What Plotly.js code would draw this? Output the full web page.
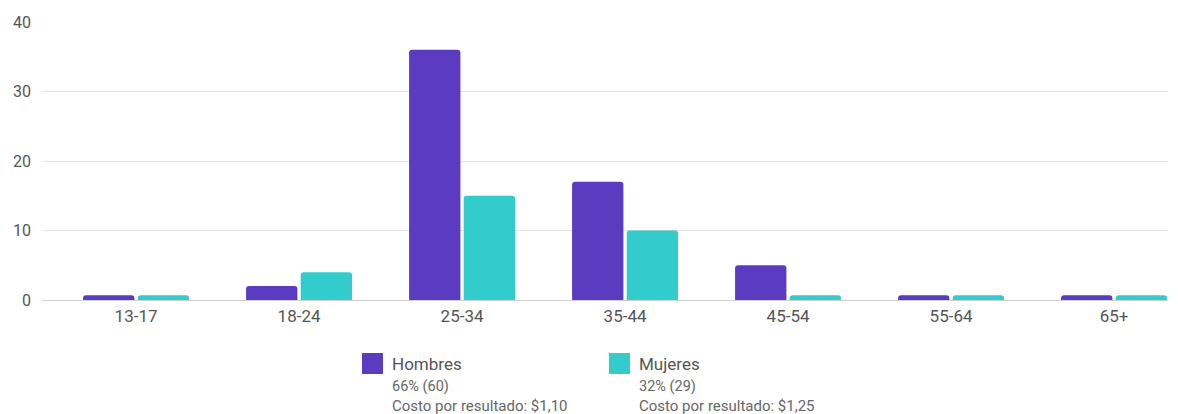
<!DOCTYPE html>
<html>
<head>
<meta charset="utf-8">
<script src="https://cdn.plot.ly/plotly-3.0.1.min.js"></script>
<style>html,body{margin:0;padding:0;background:#fff;}#chart{width:1178px;height:414px;}</style>
</head>
<body>
<div id="chart"></div>
<script>
const categories = ["13-17", "18-24", "25-34", "35-44", "45-54", "55-64", "65+"];
const hombres = [0.7, 2, 36, 17, 5, 0.7, 0.7];
const mujeres = [0.7, 4, 15, 10, 0.7, 0.7, 0.7];
const seriesNames = ["Hombres", "Mujeres"];
const seriesStats = ["66% (60)", "32% (29)"];
const seriesCost = ["Costo por resultado: $1,10", "Costo por resultado: $1,25"];
const yTicks = [0, 10, 20, 30, 40];

const colors = ["#5b3bbf", "#33cccc"];
const font = "Roboto, 'Noto Sans', sans-serif";

const traces = [
  {type: "bar", x: categories, y: hombres, name: seriesNames[0], marker: {color: colors[0], cornerradius: 3}, showlegend: false},
  {type: "bar", x: categories, y: mujeres, name: seriesNames[1], marker: {color: colors[1], cornerradius: 3}, showlegend: false}
];

const W = 1178, H = 414, L = 42, R = 10, T = 22, B = 114;
const pw = W - L - R, ph = H - T - B;
function px(x) { return (x - L) / pw; }
function py(y) { return (H - B - y) / ph; }

const legendX = [362, 609];
const shapes = [], annotations = [];
seriesNames.forEach((n, i) => {
  shapes.push({type: "rect", xref: "paper", yref: "paper", x0: px(legendX[i]), x1: px(legendX[i] + 21), y0: py(374), y1: py(353), fillcolor: colors[i], line: {width: 0}});
  annotations.push({xref: "paper", yref: "paper", x: px(legendX[i] + 28), y: py(364), xanchor: "left", yanchor: "middle", text: n, showarrow: false, font: {family: font, size: 17, color: "#555"}});
  annotations.push({xref: "paper", yref: "paper", x: px(legendX[i] + 28), y: py(386), xanchor: "left", yanchor: "middle", text: seriesStats[i], showarrow: false, font: {family: font, size: 14.5, color: "#666"}});
  annotations.push({xref: "paper", yref: "paper", x: px(legendX[i] + 28), y: py(405.5), xanchor: "left", yanchor: "middle", text: seriesCost[i], showarrow: false, font: {family: font, size: 15, color: "#666"}});
});

const layout = {
  width: W, height: H,
  margin: {l: L, r: R, t: T, b: B, pad: 0},
  paper_bgcolor: "#fff", plot_bgcolor: "#fff",
  barmode: "group", bargap: 0.33, bargroupgap: 0.06,
  font: {family: font, size: 17, color: "#555"},
  xaxis: {type: "category", range: [-0.577, 6.331], showgrid: false, showline: false, zeroline: false, ticks: "", tickfont: {family: font, size: 17, color: "#555"}, ticklabelstandoff: 4},
  yaxis: {range: [0, 40], tickvals: yTicks, showgrid: true, gridcolor: "#e3e3e3", gridwidth: 1, zeroline: true, zerolinecolor: "#cfcfcf", zerolinewidth: 1, showline: false, ticks: "", tickfont: {family: font, size: 16, color: "#555"}, ticklabelstandoff: 10},
  shapes: shapes,
  annotations: annotations
};

Plotly.newPlot("chart", traces, layout, {displayModeBar: false, staticPlot: true});
</script>
</body>
</html>
